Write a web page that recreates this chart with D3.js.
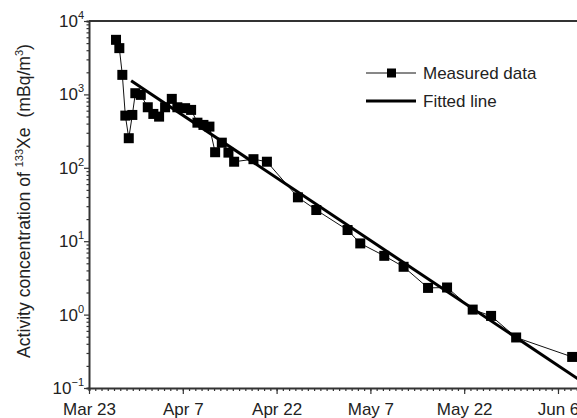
<!DOCTYPE html>
<meta charset="utf-8">
<style>
  body { margin: 0; background: #fff; }
  svg { font-family: "Liberation Sans", Arial, sans-serif; }
  .axis path, .axis line { stroke: #333; }
  .axis path { stroke-width: 2; }
  .axis line { stroke-width: 1.2; }
  .measured-path { stroke: #111; stroke-width: 1; fill: none; }
  .fit-path { stroke: #000; stroke-width: 3; fill: none; }
  .pt { fill: #000; }
</style>
<body>
<div class="chart"></div>
</body>
<script src="https://d3js.org/d3.v7.min.js"></script>
<script>

// days after Mar 23 (2011) for each measurement
var measuredDays = [4.32, 4.85, 5.33, 5.81, 6.36, 6.93, 7.41, 8.28, 9.40, 10.29,
  11.21, 12.17, 13.24, 14.13, 15.37, 16.33, 17.34, 18.30, 19.26, 20.17,
  21.24, 22.30, 23.21, 26.30, 28.45, 33.41, 36.35, 41.35, 43.38, 47.22,
  50.31, 54.22, 57.26, 61.36, 64.30, 68.31, 77.27];
// activity concentration of 133Xe, mBq/m3
var measuredValues = [5540, 4270, 1845, 514, 253, 525, 1038, 985, 668, 542,
  498, 668, 869, 668, 649, 615, 412, 384, 364, 163,
  220, 161, 121, 131, 121, 39.6, 26.6, 14.2, 9.33, 6.32,
  4.48, 2.31, 2.34, 1.17, 0.96, 0.488, 0.265];

// fitted line end points
var fitDays = [6.74, 79];
var fitValues = [1530, 0.12];

var xTickDays = [0, 15, 30, 45, 60, 75];
var xTickLabels = ["Mar 23", "Apr 7", "Apr 22", "May 7", "May 22", "Jun 6"];
var yExponents = [-1, 0, 1, 2, 3, 4];
var legendLabels = ["Measured data", "Fitted line"];

var W = 577, H = 418;
var margin = {top: 21, left: 89, bottom: 30};
var plotRight = 583;
var plotBottom = H - margin.bottom;

var x = d3.scaleLinear().domain([0, 79]).range([margin.left, plotRight]);
var y = d3.scaleLog().domain([0.1, 10000]).range([plotBottom, margin.top]);

var svg = d3.select(".chart").append("svg")
    .attr("width", W)
    .attr("height", H);

svg.append("defs").append("clipPath").attr("id", "clip")
  .append("rect")
    .attr("x", margin.left).attr("y", margin.top)
    .attr("width", plotRight - margin.left)
    .attr("height", plotBottom - margin.top);

// top frame line
svg.append("line")
    .attr("x1", margin.left).attr("x2", W)
    .attr("y1", margin.top).attr("y2", margin.top)
    .attr("stroke", "#333").attr("stroke-width", 2);

// x axis: daily minor ticks + major ticks every 15 days
var minorDays = d3.range(0, 80);
svg.append("g").attr("class", "axis")
    .attr("transform", "translate(0," + plotBottom + ")")
    .call(d3.axisBottom(x).tickValues(minorDays).tickSize(3).tickFormat(""));

var xMajor = svg.append("g").attr("class", "axis")
    .attr("transform", "translate(0," + plotBottom + ")")
    .call(d3.axisBottom(x).tickValues(xTickDays).tickSize(6).tickPadding(9)
      .tickFormat(function(d, i) { return xTickLabels[i]; }));
xMajor.select(".domain").remove();
xMajor.selectAll("text").attr("font-size", 17).attr("fill", "#222")
    .attr("font-family", "Liberation Sans, Arial, sans-serif");

// y axis: log minor ticks + decade ticks
var minorVals = [];
yExponents.slice(0, -1).forEach(function(e) {
  d3.range(2, 10).forEach(function(m) { minorVals.push(m * Math.pow(10, e)); });
});
svg.append("g").attr("class", "axis")
    .attr("transform", "translate(" + margin.left + ",0)")
    .call(d3.axisLeft(y).tickValues(minorVals).tickSize(2.5).tickFormat(""));

var yMajor = svg.append("g").attr("class", "axis")
    .attr("transform", "translate(" + margin.left + ",0)")
    .call(d3.axisLeft(y).tickValues(yExponents.map(function(e) { return Math.pow(10, e); }))
      .tickSize(5).tickFormat(""));
yMajor.select(".domain").remove();

var yLab = svg.append("g").selectAll("text")
  .data(yExponents).enter().append("text")
    .attr("x", margin.left - 5)
    .attr("y", function(e) { return y(Math.pow(10, e)) + 6; })
    .attr("text-anchor", "end")
    .attr("font-size", 17)
    .attr("fill", "#222");
yLab.append("tspan").text("10");
yLab.append("tspan").attr("dy", -8).attr("font-size", 11)
    .text(function(e) { return e < 0 ? "\u2212" + (-e) : e; });

// y axis title
var yTitle = svg.append("text")
    .attr("transform", "translate(30," + 201 + ") rotate(-90)")
    .attr("text-anchor", "middle")
    .attr("font-size", 17.6)
    .attr("fill", "#222");
yTitle.append("tspan").text("Activity concentration of ");
yTitle.append("tspan").attr("dy", -7).attr("font-size", 11).text("133");
yTitle.append("tspan").attr("dy", 7).text("Xe\u00a0\u00a0(mBq/m");
yTitle.append("tspan").attr("dy", -7).attr("font-size", 11).text("3");
yTitle.append("tspan").attr("dy", 7).text(")");

var plot = svg.append("g").attr("clip-path", "url(#clip)");

var measured = measuredDays.map(function(d, i) { return [d, measuredValues[i]]; });
var fit = fitDays.map(function(d, i) { return [d, fitValues[i]]; });

var line = d3.line()
    .x(function(d) { return x(d[0]); })
    .y(function(d) { return y(d[1]); });

plot.append("path").attr("class", "measured-path").attr("d", line(measured));
plot.append("path").attr("class", "fit-path").attr("d", line(fit));

var sq = 10;
svg.append("g").selectAll("rect")
  .data(measured).enter().append("rect")
    .attr("class", "pt")
    .attr("x", function(d) { return x(d[0]) - sq / 2; })
    .attr("y", function(d) { return y(d[1]) - sq / 2; })
    .attr("width", sq).attr("height", sq);

// legend
var legend = svg.append("g").attr("transform", "translate(366,73)");
legend.append("line").attr("class", "measured-path")
    .attr("x1", 0).attr("x2", 50).attr("y1", 0).attr("y2", 0);
legend.append("rect").attr("class", "pt")
    .attr("x", 21).attr("y", -4.5).attr("width", 9).attr("height", 9);
legend.append("line").attr("class", "fit-path")
    .attr("x1", 0).attr("x2", 50).attr("y1", 28).attr("y2", 28);
legend.selectAll("text").data(legendLabels).enter().append("text")
    .attr("x", 57)
    .attr("y", function(d, i) { return 6 + i * 28; })
    .attr("font-size", 17)
    .attr("fill", "#222")
    .text(function(d) { return d; });

</script>
